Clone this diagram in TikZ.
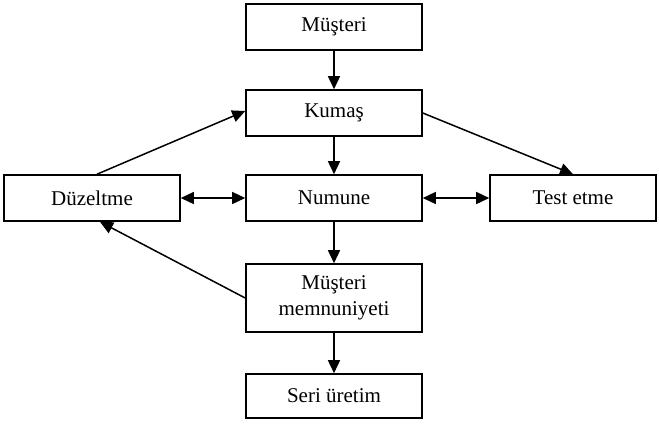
\documentclass[tikz,border=0pt]{standalone}
\usepackage{fontspec}
\setmainfont{Liberation Serif}
\usetikzlibrary{arrows.meta}
\begin{document}
\begin{tikzpicture}[x=1pt,y=-1pt,
  box/.style={draw,line width=1.6pt,minimum width=176pt,minimum height=46pt,inner sep=0pt,align=center,font=\fontsize{21}{26}\selectfont},
  arr/.style={line width=1.5pt,-{Triangle[length=13pt,width=12pt]}},
  darr/.style={line width=1.5pt,{Triangle[length=13pt,width=12pt]}-{Triangle[length=13pt,width=12pt]}}]
\useasboundingbox (0,0) rectangle (659,424);
\node[box] (mus) at (334,27) {Müşteri};
\node[box] (kum) at (334,113) {Kumaş};
\node[box] (num) at (334,198) {Numune};
\node[box] (duz) at (92,198) {Düzeltme};
\node[box,minimum width=166pt] (test) at (573,198) {Test etme};
\node[box,minimum height=68pt] (mem) at (334,298) {Müşteri\\memnuniyeti};
\node[box,minimum height=44pt] (seri) at (334,396) {Seri üretim};
\draw[arr] (mus) -- (kum);
\draw[arr] (kum) -- (num);
\draw[arr] (num) -- (mem);
\draw[arr] (mem) -- (seri);
\draw[darr] (duz) -- (num);
\draw[darr] (num) -- (test);
\draw[arr] ([xshift=5pt]duz.north) -- ([yshift=2pt]kum.west);
\draw[arr] (kum.east) -- (test.north);
\draw[arr] (mem.west) -- ([xshift=8pt]duz.south);
\end{tikzpicture}
\end{document}
